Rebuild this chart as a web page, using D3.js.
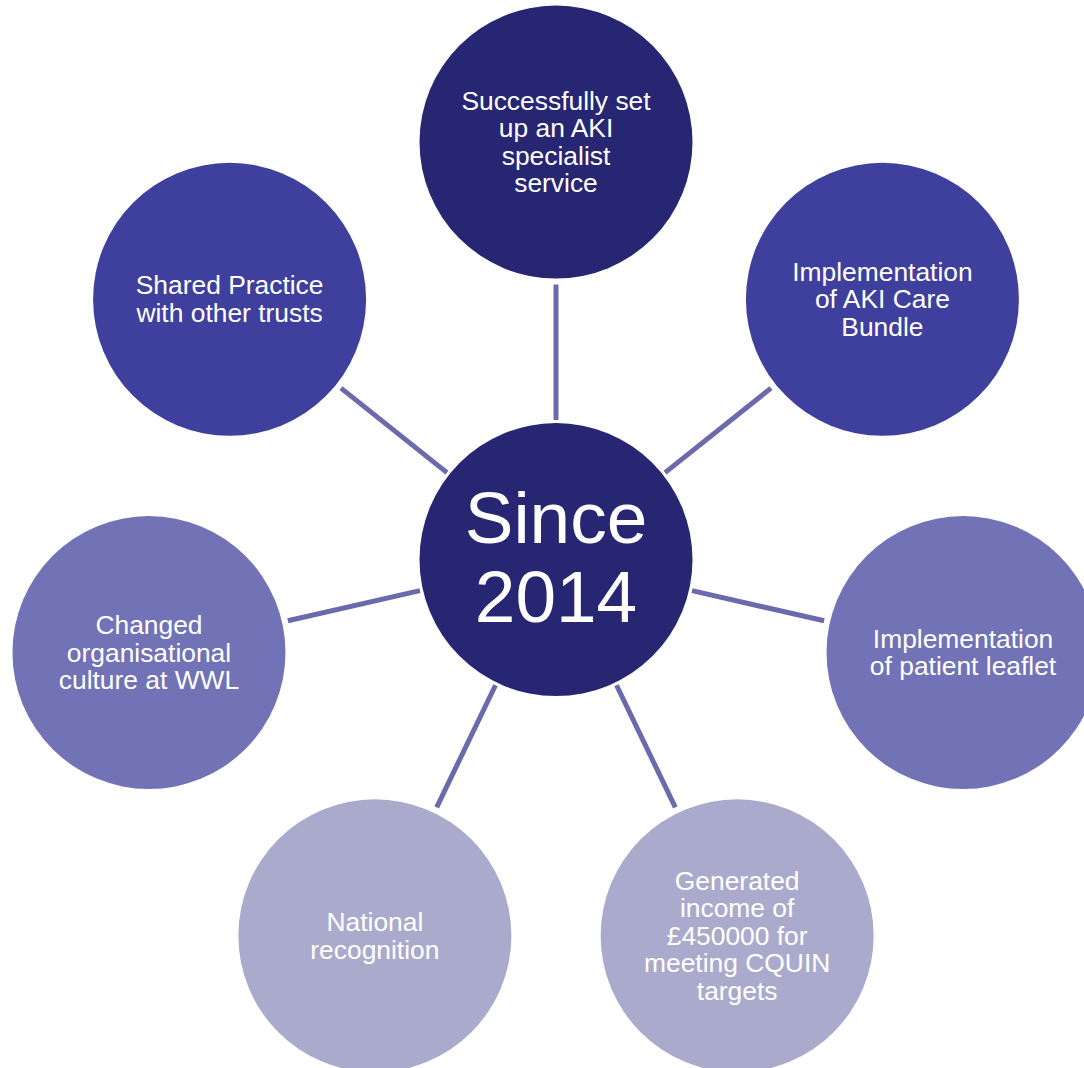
<!DOCTYPE html>
<html>
<head>
<meta charset="utf-8">
<script src="https://cdn.jsdelivr.net/npm/d3@7"></script>
<style>
html,body{margin:0;padding:0;background:#fff;overflow:hidden;}
svg{display:block;}
</style>
</head>
<body>
<svg id="chart" width="1084" height="1068"></svg>
<script>
// ---- data ----
const centerLabel = ["Since", "2014"];
const items = [
  ["Successfully set", "up an AKI", "specialist", "service"],
  ["Implementation", "of AKI Care", "Bundle"],
  ["Implementation", "of patient leaflet"],
  ["Generated", "income of", "£450000 for", "meeting CQUIN", "targets"],
  ["National", "recognition"],
  ["Changed", "organisational", "culture at WWL"],
  ["Shared Practice", "with other trusts"]
];
const tiers = [0, 1, 2, 3, 3, 2, 1];
const tierColors = ["#262673", "#3f3f9e", "#7272b7", "#aaabcc"];

// ---- layout ----
const cx = 556, cy = 559.6, R = 417.5, r = 136.5;
const svg = d3.select("#chart");
const angle = d3.scaleLinear().domain([0, items.length]).range([-Math.PI / 2, 1.5 * Math.PI]);
const color = d3.scaleOrdinal().domain([0, 1, 2, 3]).range(tierColors);
const font = "'Liberation Sans', Arial, Helvetica, sans-serif";

const nodes = items.map((lines, i) => {
  const a = angle(i);
  return { lines, tier: tiers[i], a, x: cx + R * Math.cos(a), y: cy + R * Math.sin(a) };
});

// connectors
svg.append("g").selectAll("line").data(nodes).join("line")
  .attr("x1", d => cx + (r + 3) * Math.cos(d.a))
  .attr("y1", d => cy + (r + 3) * Math.sin(d.a))
  .attr("x2", d => cx + (R - r - 6) * Math.cos(d.a))
  .attr("y2", d => cy + (R - r - 6) * Math.sin(d.a))
  .attr("stroke", "#6a6aac")
  .attr("stroke-width", 5);

// outer circles
const g = svg.append("g").selectAll("g").data(nodes).join("g")
  .attr("transform", d => `translate(${d.x},${d.y})`);
g.append("circle").attr("r", r).attr("fill", d => color(d.tier));
const lh = 27.6;
g.append("text")
  .attr("text-anchor", "middle")
  .attr("fill", "#ffffff")
  .style("font-family", font)
  .style("font-size", "26.4px")
  .selectAll("tspan").data(d => d.lines.map((t, j) => ({ t, j, n: d.lines.length }))).join("tspan")
  .attr("x", 0)
  .attr("y", d => 9 + (d.j - (d.n - 1) / 2) * lh)
  .text(d => d.t);

// center
const c = svg.append("g").attr("transform", `translate(${cx},${cy})`);
c.append("circle").attr("r", r).attr("fill", tierColors[0]);
c.append("text")
  .attr("text-anchor", "middle")
  .attr("fill", "#ffffff")
  .style("font-family", font)
  .style("font-size", "73px")
  .selectAll("tspan").data(centerLabel).join("tspan")
  .attr("x", 0)
  .attr("y", (d, j) => 23 + (j - 0.5) * 78.4)
  .text(d => d);
</script>
</body>
</html>
